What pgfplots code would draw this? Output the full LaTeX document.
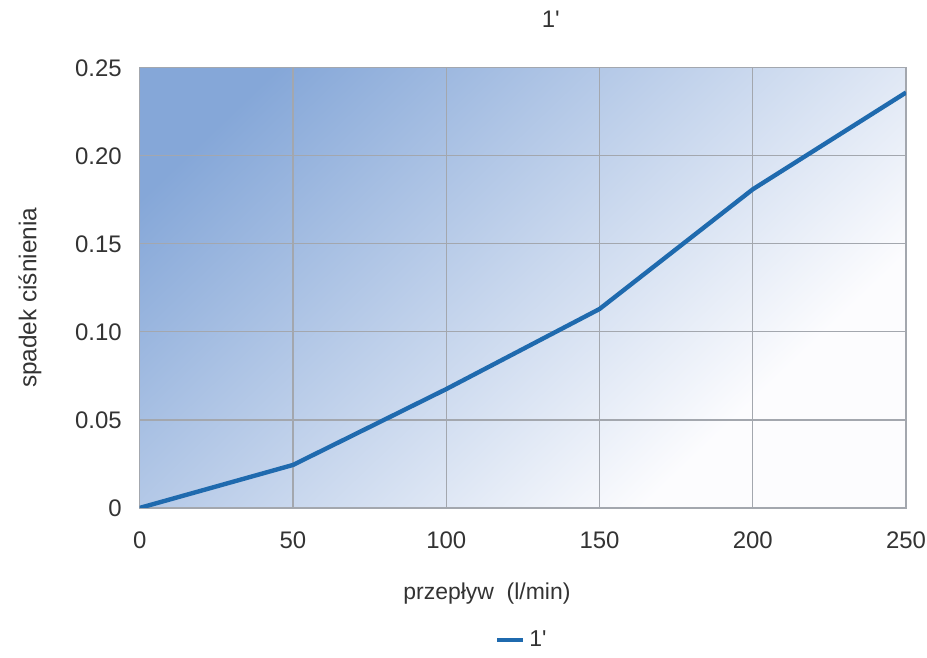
\documentclass[border=0pt]{standalone}
\usepackage{fontspec}
\setmainfont{Liberation Sans}
\usepackage{pgfplots}
\pgfplotsset{compat=1.18}

\definecolor{lineblue}{HTML}{1F6AAE}
\definecolor{gridgray}{HTML}{A3A7AE}
\definecolor{bgdark}{HTML}{85A7D8}
\definecolor{bglight}{HTML}{FCFCFE}
\definecolor{txt}{HTML}{333333}

% background gradient, dark top left -> white bottom right
\pgfdeclarehorizontalshading{plotbg}{100bp}{
  color(0bp)=(bgdark); color(22.4bp)=(bgdark);
  color(70.2bp)=(bglight); color(100bp)=(bglight)}

\begin{document}
\begin{tikzpicture}
  \begin{axis}[
      scale only axis,
      width=384pt, height=220.5pt,
      xmin=0, xmax=250, ymin=0, ymax=0.25,
      xtick={0,50,...,250},
      ytick={0,0.05,0.10,0.15,0.20,0.25},
      yticklabels={0,0.05,0.10,0.15,0.20,0.25},
      /pgf/number format/assume math mode=true,
      tick style={draw=none},
      grid=major,
      major grid style={gridgray, line width=0.6pt},
      axis line style={gridgray, line width=0.6pt},
      axis background/.style={shading=plotbg, shading angle=-46.3},
      ticklabel style={font=\fontsize{12}{14}\selectfont, text=txt},
      xticklabel style={yshift=-8.5pt, inner xsep=0pt},
      yticklabel style={xshift=-5.5pt},
      title={1\textquotesingle},
      title style={font=\fontsize{12}{14}\selectfont, text=txt, yshift=10.5pt, xshift=14pt},
      xlabel={przepływ\ \ (l/min)},
      xlabel style={font=\fontsize{11.5}{13}\selectfont, text=txt, yshift=-10pt, xshift=-18pt},
      ylabel={spadek ciśnienia},
      ylabel style={font=\fontsize{12.2}{14}\selectfont, text=txt, yshift=10pt, xshift=-5pt},
      legend style={draw=none, fill=none, at={(0.5,-0.26)}, anchor=north,
        font=\fontsize{11.5}{13}\selectfont, text=txt},
      legend image code/.code={\draw[#1] (0pt,0pt) -- (13pt,0pt);},
    ]
    \addplot[lineblue, line width=2.2pt, line join=round] coordinates {
      (0,0)
      (50,0.0244)
      (100,0.0675)
      (150,0.113)
      (200,0.181)
      (250,0.236)
    };
    \addlegendentry{1\textquotesingle}
  \end{axis}
  \path (current axis.south west) ++(-70pt,-64pt) rectangle ([shift={(10.5pt,34pt)}]current axis.north east);
\end{tikzpicture}
\end{document}
